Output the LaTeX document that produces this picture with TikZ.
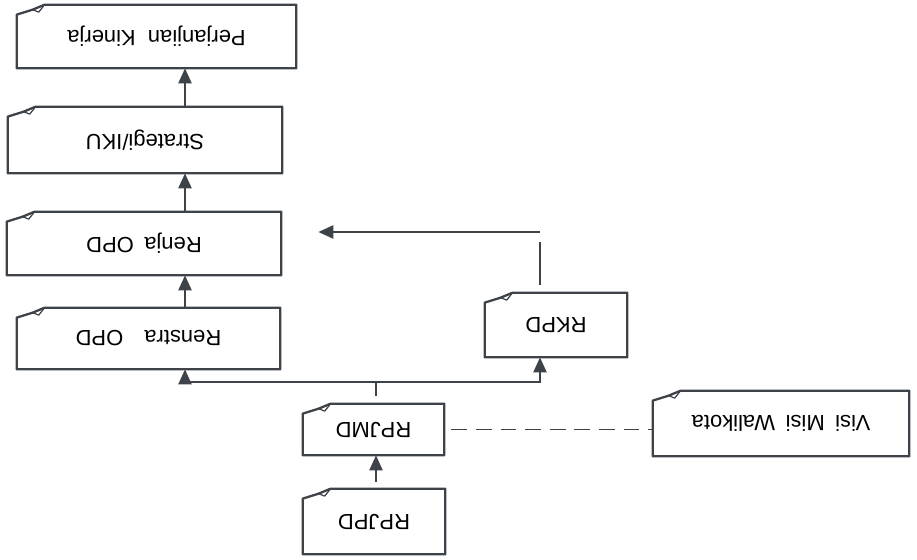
\documentclass[tikz,border=0pt]{standalone}
\usepackage{graphicx}
\usepackage{xcolor}
\usepackage{fontspec}
\setmainfont{Liberation Sans}
\usepackage{tikz}
\usetikzlibrary{positioning, arrows.meta, calc}

\definecolor{inkgray}{HTML}{3E4349}
\newcommand{\updown}[1]{\rotatebox[origin=c]{180}{#1}}
% outline with the folded corner
\newcommand{\docshape}[1]{%
  \draw[boxline] ([yshift=-0.2cm]#1.north west) -- ([xshift=0.32cm,yshift=-0.1cm]#1.north west)
    -- ([xshift=0.56cm]#1.north west) -- (#1.north east) -- (#1.south east) -- (#1.south west) -- cycle;
  \draw[boxline, line width=0.7pt] ([xshift=0.32cm,yshift=-0.1cm]#1.north west)
    -- ([xshift=0.56cm]#1.north west) -- ([xshift=0.44cm,yshift=-0.15cm]#1.north west) -- cycle;}

\tikzset{
  doc/.style={inner sep=0pt, text=black, font=\fontsize{12.5}{14}\selectfont},
  boxline/.style={draw=inkgray, line width=1.3pt, line join=round},
  conn/.style={draw=inkgray, line width=1.3pt},
  arr/.style={conn, -{Triangle[length=0.3cm, width=0.26cm]}}
}

\begin{document}
\begin{tikzpicture}[x=0.02cm, y=-0.02cm]
\useasboundingbox (0,0) rectangle (917,560);

\node[doc, minimum width=5.58cm, minimum height=1.26cm](perjanjian) at (156.5, 36.5) {\updown{Perjanjian\hspace{7pt}Kinerja}};
\node[doc, minimum width=5.48cm, minimum height=1.32cm](strategi) at (145, 140) {\updown{Strategi/IKU}};
\node[doc, minimum width=5.48cm, minimum height=1.26cm](renja) at (144, 243.5) {\updown{Renja\hspace{6pt}OPD}};
\node[doc, minimum width=5.26cm, minimum height=1.22cm](renstra) at (148.5, 338.5) {\updown{Renstra\hspace{12pt}OPD}};
\node[doc, minimum width=2.84cm, minimum height=1.28cm](rkpd) at (556, 325) {\updown{RKPD}};
\node[doc, minimum width=2.82cm, minimum height=1.02cm](rpjmd) at (373.5, 429.5) {\updown{RPJMD}};
\node[doc, minimum width=2.84cm, minimum height=1.30cm](rpjpd) at (374, 521.5) {\updown{RPJPD}};
\node[doc, minimum width=5.12cm, minimum height=1.30cm](visi) at (781, 423.5) {\updown{Visi\hspace{6pt}Misi\hspace{6pt}Walikota}};

\foreach \n in {perjanjian, strategi, renja, renstra, rkpd, rpjmd, rpjpd, visi}
  \docshape{\n};

\coordinate(spine) at (185, 0);
\coordinate(split) at (376, 382);
\coordinate(turn) at (540, 232);

\draw[arr, shorten <=0.14cm] (rpjpd.north -| split) -- (rpjmd.south -| split);
\draw[conn, shorten <=0.16cm] (rpjmd.north -| split) -- (split);
\draw[arr] (split) -| (renstra.south -| spine);
\draw[arr] (split) -| (rkpd.south -| turn);
\draw[arr] (renstra.north -| spine) -- (renja.south -| spine);
\draw[arr] (renja.north -| spine) -- (strategi.south -| spine);
\draw[arr] (strategi.north -| spine) -- (perjanjian.south -| spine);
\draw[conn] ([yshift=0.16cm]rkpd.north -| turn) -- ([yshift=-0.2cm]turn);
\draw[arr, shorten >=0.74cm] (turn) -- (renja.east |- turn);
\draw[conn, line width=0.9pt, dash pattern=on 9pt off 5pt, shorten <=0.14cm] (rpjmd.east) -- (rpjmd.east -| visi.west);
\end{tikzpicture}
\end{document}
